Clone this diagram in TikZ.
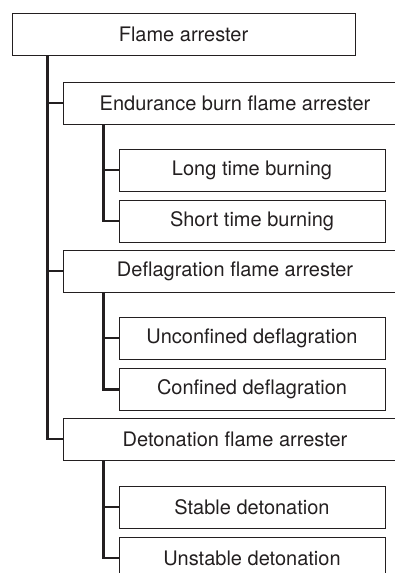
\documentclass[tikz,border=0pt]{standalone}
\usepackage{fontspec}
\setmainfont{TeX Gyre Heros}
\definecolor{ink}{HTML}{231F20}

\tikzset{
  box/.style={draw=ink, line width=1pt, text=ink, minimum height=42pt,
    inner sep=0pt, font=\fontsize{20}{24}\selectfont},
  rootbox/.style={box, minimum width=343pt},
  midbox/.style={box, minimum width=344pt},
  leafbox/.style={box, minimum width=266pt},
  link/.style={draw=ink, line width=2.5pt}
}

\begin{document}
\begin{tikzpicture}[x=1pt,y=1pt]
      \useasboundingbox (0,0) rectangle (395,-573);
      \clip (0,0) rectangle (395,-573);

      % root
      \node[rootbox] (root) at (183.5,-34) {Flame arrester};

      % first level
      \node[midbox] (endur) at (235,-103) {Endurance burn flame arrester};
      \node[midbox] (defl)  at (235,-271) {Deflagration flame arrester};
      \node[midbox] (deton) at (235,-439) {Detonation flame arrester};

      % second level
      \node[leafbox] (long)   at (252,-170)   {Long time burning};
      \node[leafbox] (short)  at (252,-221)   {Short time burning};
      \node[leafbox] (unconf) at (252,-338)   {Unconfined deflagration};
      \node[leafbox] (conf)   at (252,-389.5) {Confined deflagration};
      \node[leafbox] (stable) at (252,-507)   {Stable detonation};
      \node[leafbox] (unstab) at (252,-558)   {Unstable detonation};

      % trunk
      \draw[link] ([xshift=36pt]root.south west) |- (endur.west);
      \draw[link] ([xshift=36pt]root.south west) |- (defl.west);
      \draw[link] ([xshift=36pt]root.south west) |- (deton.west);

      % branches
      \draw[link] ([xshift=41pt]endur.south west) |- (long.west);
      \draw[link] ([xshift=41pt]endur.south west) |- (short.west);
      \draw[link] ([xshift=41pt]defl.south west) |- (unconf.west);
      \draw[link] ([xshift=41pt]defl.south west) |- (conf.west);
      \draw[link] ([xshift=41pt]deton.south west) |- (stable.west);
      \draw[link] ([xshift=41pt]deton.south west) |- (unstab.west);

\end{tikzpicture}
\end{document}
